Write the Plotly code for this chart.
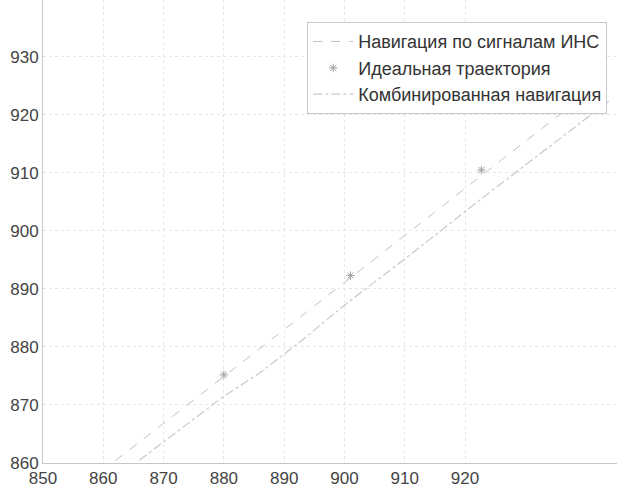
import plotly.graph_objects as go

ins_x = [862, 870, 880, 890, 900, 910, 920, 930, 936]
ins_y = [860.4, 866.8, 874.9, 883.0, 891.1, 899.2, 907.3, 915.4, 920.3]

ideal_x = [859, 880, 901, 922.7]
ideal_y = [858.0, 875.2, 892.3, 910.5]

comb_x = [866, 870.5, 880, 885.9, 893, 900, 911.9, 922.4, 930, 940.6, 944]
comb_y = [860.5, 864.0, 871.5, 875.5, 881.2, 887.2, 896.7, 905.3, 911.3, 919.7, 922.5]

x_ticks = [850, 860, 870, 880, 890, 900, 910, 920]
y_ticks = [860, 870, 880, 890, 900, 910, 920, 930]

names = ["Навигация по сигналам ИНС", "Идеальная траектория", "Комбинированная навигация"]

fig = go.Figure()
fig.add_trace(go.Scatter(x=ins_x, y=ins_y, mode="lines", name=names[0],
                         line=dict(color="#c0c0c0", width=1, dash="dash")))
fig.add_trace(go.Scatter(x=ideal_x, y=ideal_y, mode="markers", name=names[1],
                         marker=dict(symbol="asterisk-open", size=7, color="#a0a0a0",
                                     line=dict(color="#a0a0a0", width=1))))
fig.add_trace(go.Scatter(x=comb_x, y=comb_y, mode="lines", name=names[2],
                         line=dict(color="#c8c8c8", width=1.2, dash="dashdot")))

font_family = "Liberation Sans, Arial, sans-serif"
axis_common = dict(
    showgrid=True, gridcolor="#e6e6e6", griddash="dot", gridwidth=1,
    zeroline=False, showline=True, linecolor="#c8c8c8", linewidth=1,
    ticks="", automargin=False,
    tickfont=dict(family=font_family, size=17, color="#444444"),
)

fig.update_layout(
    width=617, height=491,
    margin=dict(l=43, r=0, t=0, b=28, pad=0),
    paper_bgcolor="white", plot_bgcolor="white",
    xaxis=dict(range=[850, 945.2], tickvals=x_ticks, ticktext=[str(v) for v in x_ticks], **axis_common),
    yaxis=dict(range=[860, 939.8], tickvals=y_ticks, ticktext=[str(v) for v in y_ticks], **axis_common),
    legend=dict(x=0.983, y=0.952, xanchor="right", yanchor="top",
                bgcolor="white", bordercolor="#c8c8c8", borderwidth=1,
                font=dict(family=font_family, size=18, color="#333333"),
                tracegroupgap=0, itemwidth=40),
    showlegend=True,
)

fig.write_html("out.html",
               config={"displayModeBar": False},
               post_script="document.body.style.margin='0';document.body.style.overflow='hidden';")
